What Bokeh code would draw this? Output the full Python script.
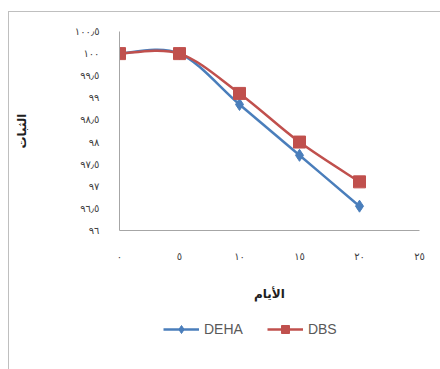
from bokeh.plotting import figure
from bokeh.layouts import column
from bokeh.models import Range1d, FixedTicker, Legend, LegendItem
from bokeh.embed import file_html
from bokeh.resources import INLINE

# Stability (%) against storage time (days) for the two plasticisers
days = [0, 5, 10, 15, 20]
deha = [100.0, 100.0, 98.85, 97.7, 96.55]
dbs = [100.0, 100.0, 99.1, 98.0, 97.1]

x_ticks = [0, 5, 10, 15, 20, 25]
x_tick_labels = ["٠", "٥", "١٠", "١٥", "٢٠", "٢٥"]
y_ticks = [96, 96.5, 97, 97.5, 98, 98.5, 99, 99.5, 100, 100.5]
y_tick_labels = ["٩٦", "٩٦٫٥", "٩٧", "٩٧٫٥", "٩٨", "٩٨٫٥", "٩٩", "٩٩٫٥", "١٠٠", "١٠٠٫٥"]

x_title = "الأيام"
y_title = "الثبات"

BLUE = "#4a7ebb"
RED = "#c0504d"
AXIS = "#a6a6a6"
FRAME = "1px solid #bfbfbf"


def smooth_segments(xs, ys):
    """Cubic Bezier pieces (Catmull-Rom style) through the given points."""
    seg = {k: [] for k in ("x0", "y0", "x1", "y1", "cx0", "cy0", "cx1", "cy1")}
    n = len(xs)
    for i in range(n - 1):
        xp, yp = (xs[i - 1], ys[i - 1]) if i > 0 else (xs[i], ys[i])
        xn, yn = (xs[i + 2], ys[i + 2]) if i + 2 < n else (xs[i + 1], ys[i + 1])
        seg["x0"].append(xs[i])
        seg["y0"].append(ys[i])
        seg["x1"].append(xs[i + 1])
        seg["y1"].append(ys[i + 1])
        seg["cx0"].append(xs[i] + (xs[i + 1] - xp) / 6)
        seg["cy0"].append(ys[i] + (ys[i + 1] - yp) / 6)
        seg["cx1"].append(xs[i + 1] - (xn - xs[i]) / 6)
        seg["cy1"].append(ys[i + 1] - (yn - ys[i]) / 6)
    return seg


# ---- main chart -------------------------------------------------------
p = figure(
    width=432, height=299,
    output_backend="svg", toolbar_location=None,
    x_range=Range1d(0, 25), y_range=Range1d(96, 100.5),
    min_border_left=110, min_border_right=22,
    min_border_top=19, min_border_bottom=81,
)
p.styles = {"border-left": FRAME, "border-top": FRAME}
p.outline_line_color = None
p.grid.visible = False
p.background_fill_color = "white"
p.border_fill_color = "white"

# x axis
p.xaxis.ticker = FixedTicker(ticks=x_ticks)
p.xaxis.major_label_overrides = dict(zip(x_ticks, x_tick_labels))
p.xaxis.axis_line_color = AXIS
p.xaxis.major_tick_line_color = None
p.xaxis.minor_tick_line_color = None
p.xaxis.major_label_standoff = 14
p.xaxis.major_label_text_font = "DejaVu Sans"
p.xaxis.major_label_text_font_size = "10px"
p.xaxis.major_label_text_color = "#404040"
p.xaxis.axis_label = x_title
p.xaxis.axis_label_standoff = 22
p.xaxis.axis_label_text_font = "DejaVu Sans"
p.xaxis.axis_label_text_font_size = "12px"
p.xaxis.axis_label_text_font_style = "bold"
p.xaxis.axis_label_text_color = "#202020"

# y axis
p.yaxis.ticker = FixedTicker(ticks=y_ticks)
p.yaxis.major_label_overrides = dict(zip(y_ticks, y_tick_labels))
p.yaxis.axis_line_color = AXIS
p.yaxis.major_tick_line_color = None
p.yaxis.minor_tick_line_color = None
p.yaxis.major_label_standoff = 14
p.yaxis.major_label_text_font = "DejaVu Sans"
p.yaxis.major_label_text_font_size = "10px"
p.yaxis.major_label_text_color = "#404040"
p.yaxis.axis_label = y_title
p.yaxis.axis_label_standoff = 43
p.yaxis.axis_label_text_font = "DejaVu Sans"
p.yaxis.axis_label_text_font_size = "12px"
p.yaxis.axis_label_text_font_style = "bold"
p.yaxis.axis_label_text_color = "#202020"

# series: smoothed lines with markers, DBS drawn over DEHA
p.bezier(line_color=BLUE, line_width=2.5, source=smooth_segments(days, deha))
p.scatter(days, deha, marker="diamond", size=12, color=BLUE)
p.bezier(line_color=RED, line_width=2.5, source=smooth_segments(days, dbs))
p.scatter(days, dbs, marker="square", size=12, color=RED)

# ---- legend strip under the chart -------------------------------------
# The strip's ranges leave the series themselves out of view; the renderers
# are only there to provide the legend swatches.
leg = figure(
    width=432, height=59,
    output_backend="svg", toolbar_location=None,
    x_range=Range1d(0, 1), y_range=Range1d(0, 1),
    x_axis_location=None, y_axis_location=None,
    min_border=0,
)
leg.styles = {"border-left": FRAME}
leg.outline_line_color = None
leg.grid.visible = False

k_deha_l = leg.line(days, deha, line_color=BLUE, line_width=2.5)
k_deha_m = leg.scatter(days, deha, marker="diamond", size=12, color=BLUE)
k_dbs_l = leg.line(days, dbs, line_color=RED, line_width=2.5)
k_dbs_m = leg.scatter(days, dbs, marker="square", size=12, color=RED)

legend = Legend(
    items=[
        LegendItem(label="DEHA", renderers=[k_deha_l, k_deha_m]),
        LegendItem(label="DBS", renderers=[k_dbs_l, k_dbs_m]),
    ],
    orientation="horizontal",
    location=(44, 30),
    glyph_width=36, glyph_height=20,
    label_standoff=5, spacing=24,
    padding=0, margin=0,
    border_line_color=None, background_fill_alpha=0,
    label_text_font="Liberation Sans", label_text_font_size="14px",
    label_text_color="#595959",
)
leg.add_layout(legend)

page = column(p, leg, spacing=0)
page.margin = (11, 0, 0, 8)

open("out.html", "w").write(file_html(page, INLINE))
